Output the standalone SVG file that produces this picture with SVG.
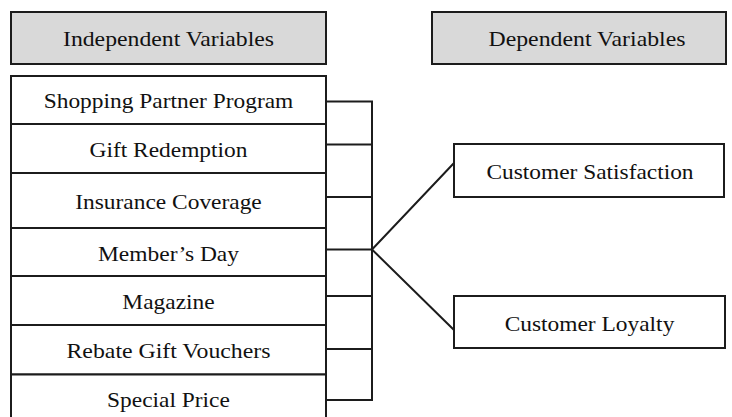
<svg xmlns="http://www.w3.org/2000/svg" width="732" height="417" viewBox="0 0 732 417">
<style>
.box{fill:#ffffff;stroke:#1c1c1c;stroke-width:2}
.hdr{fill:#d9d9d9;stroke:#1c1c1c;stroke-width:2}
.t{font-family:'Liberation Serif','Times New Roman',serif;font-size:21.8px;fill:#111;text-anchor:middle}
.c{fill:none;stroke:#1c1c1c;stroke-width:2;stroke-linejoin:miter}
</style>
<rect width="732" height="417" fill="#ffffff"/>
<g id="hdr-independent"><rect class="hdr" x="11" y="12" width="315" height="52"/><text class="t" x="168.5" y="46" textLength="211" lengthAdjust="spacingAndGlyphs">Independent Variables</text></g>
<g id="hdr-dependent"><rect class="hdr" x="432" y="12" width="294" height="52"/><text class="t" x="587" y="46" textLength="197" lengthAdjust="spacingAndGlyphs">Dependent Variables</text></g>
<g id="n-shopping"><rect class="box" x="11" y="76" width="315" height="48"/><text class="t" x="168.5" y="108.3" textLength="249.6" lengthAdjust="spacingAndGlyphs">Shopping Partner Program</text></g>
<g id="n-gift"><rect class="box" x="11" y="124" width="315" height="49"/><text class="t" x="168.5" y="156.7" textLength="158" lengthAdjust="spacingAndGlyphs">Gift Redemption</text></g>
<g id="n-insurance"><rect class="box" x="11" y="173" width="315" height="55"/><text class="t" x="168.5" y="208.7" textLength="186.5" lengthAdjust="spacingAndGlyphs">Insurance Coverage</text></g>
<g id="n-member"><rect class="box" x="11" y="228" width="315" height="48"/><text class="t" x="168.5" y="261" textLength="141" lengthAdjust="spacingAndGlyphs">Member’s Day</text></g>
<g id="n-magazine"><rect class="box" x="11" y="276" width="315" height="49"/><text class="t" x="168.5" y="309.3" textLength="92.3" lengthAdjust="spacingAndGlyphs">Magazine</text></g>
<g id="n-rebate"><rect class="box" x="11" y="325" width="315" height="49.5"/><text class="t" x="168.5" y="358.3" textLength="204" lengthAdjust="spacingAndGlyphs">Rebate Gift Vouchers</text></g>
<g id="n-special"><rect class="box" x="11" y="374.5" width="315" height="50"/><text class="t" x="168.5" y="406.7" textLength="122.8" lengthAdjust="spacingAndGlyphs">Special Price</text></g>
<g id="n-satisfaction"><rect class="box" x="454" y="144" width="270" height="53"/><text class="t" x="590" y="179.3" textLength="207" lengthAdjust="spacingAndGlyphs">Customer Satisfaction</text></g>
<g id="n-loyalty"><rect class="box" x="454" y="296" width="271" height="52"/><text class="t" x="589.5" y="331" textLength="169.7" lengthAdjust="spacingAndGlyphs">Customer Loyalty</text></g>
<g id="connectors">
<path class="c" d="M326 101.5H372V400H326"/>
<path class="c" d="M326 144.5H372M326 197H372M326 249.5H372M326 296H372M326 349H372"/>
<path class="c" d="M454 163L372 249.5L454 330"/>
</g>
</svg>
